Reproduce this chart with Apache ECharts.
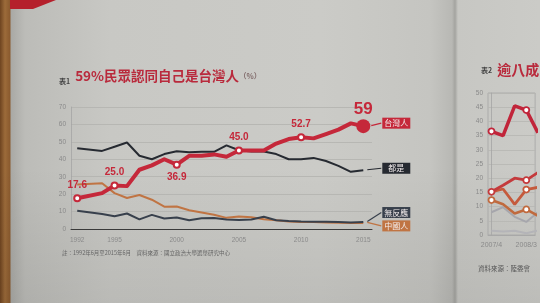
<!DOCTYPE html>
<html>
<head>
<meta charset="utf-8">
<script src="https://cdn.jsdelivr.net/npm/echarts@6/dist/echarts.min.js"></script>
<style>
html,body{margin:0;padding:0;width:540px;height:303px;overflow:hidden;}
#bg{position:absolute;left:0;top:0;width:540px;height:303px;
background:
 linear-gradient(to bottom, rgba(0,0,0,0) 55%, rgba(0,0,0,0.07) 100%),
 linear-gradient(to right, #6e4420 0px, #9c6b3a 5px, #8a5a2e 10px, #a9a9a5 11px, #bcbcb8 25px, #c8c8c4 110px, #cbcbc7 320px, #c5c5c1 430px, #b8b8b4 452px, #a4a4a0 455px, #c7c7c3 458px, #cbcbc7 540px);}
#chart{position:absolute;left:0;top:0;width:540px;height:303px;}
</style>
</head>
<body>
<div id="bg"></div>
<div id="chart"></div>
<script>
// ---- Chart 1 data ----
const years = [1992,1994,1995,1996,1997,1998,1999,2000,2001,2002,2003,2004,2005,2006,2007,2008,2009,2010,2011,2012,2013,2014,2015];
const taiwanese  = [17.6,20.6,25.0,24.6,34.0,36.5,40.0,36.9,42.0,42.0,42.8,41.5,45.0,45.0,45.0,49.0,51.6,52.7,52.0,54.5,57.0,60.6,59.0];
const both       = [46.4,44.8,47.2,49.6,42.0,40.0,43.0,44.6,44.0,44.3,44.3,48.0,45.2,44.5,44.5,43.0,40.0,40.0,40.8,39.0,36.2,32.8,33.7];
const chinese    = [25.5,26.3,20.6,17.8,19.5,16.8,12.8,12.9,10.8,9.5,8.2,6.4,7.2,6.8,5.6,5.0,4.3,4.0,4.0,3.8,3.6,3.5,3.5];
const noResponse = [10.5,8.6,7.3,8.9,5.5,8.1,6.0,6.6,5.0,6.2,6.3,5.4,5.2,5.4,7.0,5.0,4.6,4.3,4.2,4.2,4.0,3.8,4.0];
const xTickYears = [1992,1995,2000,2005,2010,2015];
const labeledYears = [1992,1995,2000,2005,2010];
const seriesNames = ['台灣人','都是','無反應','中國人'];
const title1 = '59%民眾認同自己是台灣人';
const note1 = '註：1992年6月至2015年6月　資料來源：國立政治大學選舉研究中心';

// ---- Chart 2 data (partly visible) ----
const t2Categories = ['2007/4','2007/8','2007/12','2008/3','2008/6'];
const t2a = [36.5,35.0,45.5,44.0,36.0];
const t2b = [15.2,17.5,20.0,19.3,22.0];
const t2c = [15.2,16.2,10.8,16.0,16.8];
const t2d = [12.3,10.8,7.6,9.0,6.8];
const t2e = [8.0,9.8,6.4,4.6,8.0];
const t2f = [1.5,1.2,1.5,0.6,1.6];
const t2Marked = [0,3];
const t2LabelIdx = [0,3];
const title2 = '逾八成民眾主張維持現狀';
const note2 = '資料來源：陸委會';

const RED = '#c5283a', DARK = '#262a31', ORANGE = '#c07443', SLATE = '#38404c';
const CJK = '"Noto Sans CJK TC","Noto Sans",sans-serif';
const LAT = '"Liberation Sans",Arial,sans-serif';

const labelPos = {1992:'top',1995:'top',2000:'bottom',2005:'top',2010:'top'};

function redData(){
  return years.map((y,i)=>{
    const item = {value:[y,taiwanese[i]]};
    if (labeledYears.includes(y)) {
      item.symbolSize = 6;
      item.itemStyle = {color:'#fff', borderColor:RED, borderWidth:2};
      item.label = {show:true, position:labelPos[y], distance:4, formatter:taiwanese[i].toFixed(1),
        color:RED, fontSize:10, fontWeight:'bold', fontFamily:LAT};
    } else if (i === years.length-1) {
      item.symbolSize = 14;
      item.itemStyle = {color:RED, borderColor:RED, borderWidth:0};
      item.label = {show:true, position:'top', distance:1, formatter:String(Math.round(taiwanese[i])),
        color:RED, fontSize:17, fontWeight:'bold', fontFamily:LAT};
    }
    return item;
  });
}
function pairs(arr){ return years.map((y,i)=>[y,arr[i]]); }
function t2Data(arr, marked, color){
  return arr.map((v,i)=> marked.includes(i) ?
    {value:[i,v], symbolSize:6, itemStyle:{color:'#fff',borderColor:color,borderWidth:1.8}} : {value:[i,v]});
}

const chart = echarts.init(document.getElementById('chart'), null, {renderer:'canvas'});
const option = {
  animation:false,
  backgroundColor:'transparent',
  title:[
    {left:54, top:62, text:'{a|表1} {b|'+title1+'}{c|（%）}',
     textStyle:{rich:{
       a:{fontSize:7,color:'#444',fontFamily:CJK,verticalAlign:'bottom'},
       b:{fontSize:13.5,color:'#b92a3c',fontFamily:CJK},
       c:{fontSize:7.5,color:'#806a6a',fontFamily:CJK}}}},
    {left:476, top:56, text:'{a|表2} {b|'+title2+'}',
     textStyle:{rich:{
       a:{fontSize:7,color:'#444',fontFamily:CJK},
       b:{fontSize:14,color:'#b92a3c',fontFamily:CJK}}}}
  ],
  grid:[
    {left:71, top:107, width:301, height:122},
    {left:488, top:93, right:0, height:142, show:true, borderColor:'#a4a4a4', borderWidth:0.8}
  ],
  xAxis:[
    {gridIndex:0, type:'value', min:1991.5, max:2015.7,
     axisLine:{show:true, lineStyle:{color:'#3a3a3a', width:1}},
     axisTick:{show:false}, splitLine:{show:false},
     axisLabel:{customValues:xTickYears, formatter:v=>String(v), fontSize:6.5, color:'#8a8a8a', margin:8, fontFamily:LAT}},
    {gridIndex:1, type:'value', min:-0.3, max:3.76,
     axisLine:{show:true, lineStyle:{color:'#a4a4a4', width:0.8}},
     axisTick:{show:false}, splitLine:{show:false},
     axisLabel:{customValues:t2LabelIdx, formatter:v=>t2Categories[Math.round(v)] || '', fontSize:7, color:'#8a8a8a', margin:7, fontFamily:LAT}}
  ],
  yAxis:[
    {gridIndex:0, type:'value', min:0, max:70, interval:10,
     axisLine:{show:true, lineStyle:{color:'#a5a5a5', width:0.8}},
     axisTick:{show:false},
     axisLabel:{fontSize:6.5, color:'#8a8a8a', margin:5, fontFamily:LAT},
     splitLine:{lineStyle:{color:'#b2b2ae', width:0.8}}},
    {gridIndex:1, type:'value', min:0, max:50, interval:5,
     axisLine:{show:true, lineStyle:{color:'#a4a4a4', width:0.8}},
     axisTick:{show:false},
     axisLabel:{fontSize:6.5, color:'#8a8a8a', margin:5, fontFamily:LAT},
     splitLine:{lineStyle:{color:'#b6b6b2', width:0.8}}}
  ],
  series:[
    {name:seriesNames[3], type:'line', xAxisIndex:0, yAxisIndex:0, data:pairs(chinese),
     symbol:'none', lineStyle:{color:ORANGE, width:2}, z:3, silent:true},
    {name:seriesNames[2], type:'line', xAxisIndex:0, yAxisIndex:0, data:pairs(noResponse),
     symbol:'none', lineStyle:{color:SLATE, width:2}, z:4, silent:true},
    {name:seriesNames[1], type:'line', xAxisIndex:0, yAxisIndex:0, data:pairs(both),
     symbol:'none', lineStyle:{color:DARK, width:2}, z:5, silent:true},
    {name:seriesNames[0], type:'line', xAxisIndex:0, yAxisIndex:0, data:redData(),
     symbol:'circle', symbolSize:0, showAllSymbol:true, itemStyle:{color:RED},
     lineStyle:{color:RED, width:4, join:'round', cap:'round'}, z:10, silent:true},

    {type:'line', xAxisIndex:1, yAxisIndex:1, data:t2Data(t2f,[], '#b8b8bc'), symbol:'circle', symbolSize:0,
     lineStyle:{color:'#b4b4b8', width:2}, z:2, silent:true},
    {type:'line', xAxisIndex:1, yAxisIndex:1, data:t2Data(t2e,[], '#a0a0a6'), symbol:'circle', symbolSize:0,
     lineStyle:{color:'#a6a6ac', width:2}, z:3, silent:true},
    {type:'line', xAxisIndex:1, yAxisIndex:1, data:t2Data(t2d,t2Marked,'#c06a3e'), symbol:'circle', symbolSize:0,
     lineStyle:{color:'#c06a3e', width:2.6}, z:4, silent:true},
    {type:'line', xAxisIndex:1, yAxisIndex:1, data:t2Data(t2c,[3],'#c55a3c'), symbol:'circle', symbolSize:0,
     lineStyle:{color:'#c55a3c', width:2.8}, z:5, silent:true},
    {type:'line', xAxisIndex:1, yAxisIndex:1, data:t2Data(t2b,t2Marked,'#c43a3c'), symbol:'circle', symbolSize:0,
     lineStyle:{color:'#c43a3c', width:2.8}, z:6, silent:true},
    {type:'line', xAxisIndex:1, yAxisIndex:1, data:t2Data(t2a,t2Marked,'#c1253a'), symbol:'circle', symbolSize:0,
     lineStyle:{color:'#c1253a', width:3.5}, z:7, silent:true}
  ]
};
chart.setOption(option);

// ---- annotations derived from the chart's own scales ----
const last = years.length-1;
const tagDefs = [
  {text:seriesNames[0], val:taiwanese[last], color:RED,    dy:-3,   off:8},
  {text:seriesNames[1], val:both[last],      color:DARK,   dy:-2,   off:4},
  {text:seriesNames[2], val:noResponse[last],color:SLATE,  dy:-9.5, off:4},
  {text:seriesNames[3], val:chinese[last],   color:ORANGE, dy:3,    off:4}
];
const graphics = [
  {type:'polygon', shape:{points:[[10,0],[56,0],[33,9],[10,9]]}, style:{fill:'#b5202c'}, silent:true},
  {type:'text', x:62, y:250, style:{text:note1, fontSize:5.5, fill:'#666', fontFamily:CJK}, silent:true},
  {type:'text', x:478, y:265, style:{text:note2, fontSize:6.5, fill:'#555', fontFamily:CJK}, silent:true}
];
tagDefs.forEach(t=>{
  const p = chart.convertToPixel({gridIndex:0},[years[last], t.val]);
  const bx = p[0]+19, by = p[1]+t.dy, w = 28, h = 11;
  graphics.push({type:'polyline', shape:{points:[[p[0]+t.off, p[1]-0.5],[bx-1, by]]},
    style:{stroke:t.color, lineWidth:1.2, fill:null}, silent:true, z:20});
  graphics.push({type:'rect', shape:{x:bx, y:by-h/2, width:w, height:h}, style:{fill:t.color}, silent:true, z:20});
  graphics.push({type:'text', x:bx+w/2, y:by, style:{text:t.text, fill:'#f4eeee', fontSize:8, fontFamily:CJK,
    align:'center', verticalAlign:'middle'}, silent:true, z:21});
});
chart.setOption({graphic:graphics});
</script>
</body>
</html>
